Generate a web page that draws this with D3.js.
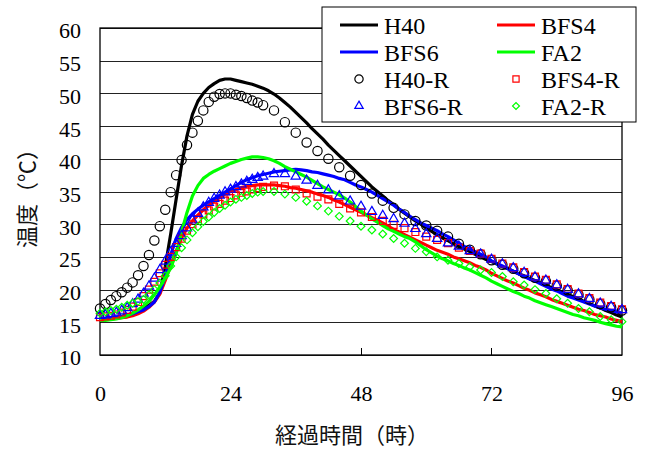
<!DOCTYPE html>
<html>
<head>
<meta charset="utf-8">
<script src="https://cdn.jsdelivr.net/npm/d3@7"></script>
<style>
body { margin: 0; background: #fff; }
svg { display: block; }
.serif { font-family: "Liberation Serif", "Times New Roman", Times, serif; }
.cjk { font-family: "Noto Sans CJK JP", "Noto Sans CJK SC", sans-serif; }
</style>
</head>
<body>
<script>
// ---- data ----
const hours = d3.range(0, 97); // measured every hour 0..96
const H40 = [15.5,15.5,15.6,15.7,15.9,16.1,16.4,16.8,17.2,17.6,18.2,19.5,23.5,28.5,33.8,39.0,43.5,46.8,48.8,50.0,50.9,51.5,52.0,52.2,52.2,52.0,51.8,51.6,51.4,51.1,50.8,50.4,49.9,49.3,48.6,47.9,47.1,46.3,45.5,44.6,43.8,43.0,42.1,41.3,40.5,39.7,38.9,38.1,37.3,36.5,35.7,35.0,34.3,33.6,33.0,32.3,31.7,31.1,30.5,30.0,29.4,28.9,28.4,27.9,27.5,27.0,26.6,26.2,25.8,25.4,25.0,24.6,24.3,23.9,23.5,23.2,22.8,22.4,22.1,21.7,21.4,21.0,20.7,20.3,20.0,19.6,19.3,18.9,18.6,18.2,17.9,17.5,17.2,16.8,16.5,16.1,15.8];
const BFS4 = [15.5,15.5,15.5,15.6,15.7,15.8,16.0,16.3,16.7,17.3,18.1,19.3,21.4,23.7,25.9,27.9,29.4,30.5,31.4,32.2,32.9,33.5,34.1,34.6,35.0,35.3,35.6,35.8,35.9,36.0,36.0,36.0,36.0,35.9,35.8,35.6,35.5,35.3,35.1,34.9,34.6,34.4,34.1,33.7,33.4,33.0,32.6,32.2,31.8,31.4,31.0,30.6,30.2,29.7,29.2,28.8,28.4,28.0,27.6,27.2,26.8,26.4,26.0,25.7,25.4,25.0,24.7,24.4,24.1,23.7,23.4,23.0,22.5,22.1,21.7,21.3,21.0,20.6,20.2,19.9,19.5,19.2,18.9,18.5,18.2,17.9,17.6,17.3,17.0,16.8,16.5,16.2,16.0,15.8,15.5,15.3,15.1];
const BFS6 = [15.6,15.6,15.7,15.8,15.9,16.1,16.3,16.6,16.9,17.4,18.1,19.6,22.0,25.3,27.8,29.5,30.7,31.6,32.3,32.9,33.4,33.9,34.4,34.9,35.4,35.9,36.4,36.8,37.1,37.4,37.6,37.8,38.0,38.1,38.2,38.3,38.4,38.3,38.2,38.0,37.9,37.7,37.5,37.3,37.0,36.8,36.4,36.0,35.7,35.3,34.9,34.4,33.9,33.4,32.9,32.3,31.8,31.2,30.7,30.2,29.8,29.4,29.0,28.5,28.1,27.6,27.1,26.6,26.2,25.8,25.4,25.0,24.4,24.0,23.6,23.2,22.8,22.4,22.0,21.6,21.3,20.9,20.5,20.1,19.8,19.4,19.0,18.7,18.4,18.1,17.8,17.5,17.2,17.0,16.8,16.6,16.4];
const FA2 = [15.3,15.3,15.4,15.5,15.7,16.0,16.4,16.9,17.5,18.2,19.2,20.4,21.8,23.3,25.5,28.8,31.8,34.3,35.9,37.0,37.6,38.1,38.5,38.9,39.3,39.6,39.9,40.1,40.3,40.3,40.2,40.0,39.7,39.3,38.8,38.4,38.0,37.6,37.2,36.7,36.2,35.7,35.3,34.9,34.5,34.0,33.4,32.7,32.0,31.4,30.8,30.3,29.8,29.3,28.9,28.5,28.1,27.8,27.3,26.7,26.1,25.6,25.1,24.7,24.4,24.0,23.7,23.3,23.0,22.6,22.2,21.8,21.3,20.9,20.5,20.1,19.7,19.4,19.0,18.7,18.3,18.0,17.7,17.4,17.1,16.8,16.5,16.2,16.0,15.7,15.5,15.3,15.0,14.8,14.6,14.4,14.3];

// analysis results (R)
const rHours = [0,1,2,3,4,5,6,7,8,9,10,11,12,13,14,15,16,17,18,19,20,21,22,23,24,25,26,27,28,29,30,32,34,36,38,40,42,44,46,48,50,52,54,56,58,60,62,64,66,68,70,72,74,76,78,80,82,84,86,88,90,92,94,96];
const H40R = [17.1,17.8,18.4,19.0,19.6,20.3,21.1,22.2,23.6,25.3,27.5,29.7,32.2,34.9,37.5,39.8,42.1,44.0,45.8,47.4,48.7,49.5,49.9,50.0,50.0,49.8,49.6,49.3,48.9,48.6,48.2,47.4,45.6,44.0,42.5,41.2,40.0,38.7,37.4,36.0,34.7,33.6,32.5,31.5,30.5,29.8,29.0,28.1,27.0,26.1,25.4,24.5,23.8,23.2,22.5,21.8,21.3,20.6,19.9,19.2,18.5,17.8,17.3,16.8];
const BFS4R = [15.8,15.9,16.0,16.2,16.5,16.9,17.4,18.1,19.0,20.0,21.2,22.5,23.8,25.0,26.5,27.8,29.0,30.0,30.8,31.5,32.1,32.7,33.1,33.6,34.0,34.4,34.8,35.0,35.3,35.5,35.7,35.9,35.8,35.3,34.7,34.2,33.8,33.1,32.4,31.8,31.1,30.5,29.9,29.4,28.8,28.1,27.6,27.1,26.4,25.9,25.5,24.7,24.0,23.4,22.7,22.0,21.5,20.8,20.1,19.4,18.7,18.0,17.5,17.0];
const BFS6R = [16.0,16.1,16.3,16.5,16.8,17.2,17.8,18.5,19.4,20.5,21.7,23.0,24.3,25.7,27.0,28.2,29.4,30.6,31.6,32.6,33.3,33.9,34.4,34.9,35.3,35.7,36.1,36.5,36.8,37.1,37.3,37.7,37.7,37.3,36.7,35.9,35.2,34.3,33.5,32.7,31.9,31.3,30.8,30.1,29.3,28.5,27.8,27.1,26.6,25.9,25.4,24.6,23.9,23.3,22.6,21.9,21.4,20.7,20.0,19.3,18.6,17.9,17.4,16.9];
const FA2R = [16.4,16.6,16.8,17.0,17.3,17.6,17.9,18.2,18.5,19.2,20.0,21.0,22.1,23.6,25.0,26.4,27.6,28.7,29.6,30.4,31.1,31.8,32.4,32.9,33.4,33.8,34.1,34.4,34.7,34.9,35.0,35.0,34.6,34.1,33.5,32.8,32.0,31.2,30.5,29.7,29.1,28.5,27.8,27.1,26.3,25.8,25.0,24.5,24.0,23.5,23.0,22.6,22.0,21.2,20.7,20.0,19.4,18.6,17.9,17.1,16.6,15.9,15.4,15.1];

const xTicks = [0, 24, 48, 72, 96];
const yTicks = [10, 15, 20, 25, 30, 35, 40, 45, 50, 55, 60];
const xTitle = "経過時間（時）";
const yTitle = "温度（℃）";

const lineSeries = [
  {name: "H40", values: H40, color: "#000000"},
  {name: "BFS4", values: BFS4, color: "#ff0000"},
  {name: "BFS6", values: BFS6, color: "#0000ff"},
  {name: "FA2", values: FA2, color: "#00ff00"}
];
const markerSeries = [
  {name: "H40-R", values: H40R, color: "#000000", shape: "circle"},
  {name: "BFS4-R", values: BFS4R, color: "#ff0000", shape: "square"},
  {name: "BFS6-R", values: BFS6R, color: "#0000ff", shape: "triangle"},
  {name: "FA2-R", values: FA2R, color: "#00ff00", shape: "diamond"}
];

// ---- layout ----
const W = 645, H = 450;
const L = 100, R = 622, T = 28, B = 355;

const svg = d3.select("body").append("svg").attr("width", W).attr("height", H);
const x = d3.scaleLinear().domain([0, 96]).range([L, R]);
const y = d3.scaleLinear().domain([10, 60]).range([B, T]);

// y axis with gridlines
const yAxis = svg.append("g").attr("transform", `translate(${L},0)`)
  .call(d3.axisLeft(y).tickValues(yTicks).tickSize(-(R - L)).tickPadding(19).tickFormat(d3.format("d")));
yAxis.attr("font-family", null).attr("font-size", null);
yAxis.select(".domain").remove();
yAxis.selectAll(".tick line").attr("stroke", "#222").attr("stroke-width", 1).attr("shape-rendering", "crispEdges");
yAxis.selectAll(".tick text").attr("class", "serif").style("font-size", "22px").attr("fill", "#000").attr("dy", "0.45em");

// x axis
const xAxis = svg.append("g").attr("transform", `translate(0,${B})`)
  .call(d3.axisBottom(x).tickValues(xTicks).tickSize(0).tickPadding(0).tickFormat(d3.format("d")));
xAxis.attr("font-family", null).attr("font-size", null);
xAxis.select(".domain").remove();
xAxis.selectAll(".tick text").attr("class", "serif").style("font-size", "22px").attr("fill", "#000").attr("y", 46).attr("dy", 0);
// inward tick marks
svg.append("g").selectAll("line").data(xTicks.slice(1, -1)).join("line")
  .attr("x1", d => x(d)).attr("x2", d => x(d)).attr("y1", B).attr("y2", B - 7)
  .attr("stroke", "#000").attr("stroke-width", 1).attr("shape-rendering", "crispEdges");

// frame
svg.append("rect").attr("x", L).attr("y", T).attr("width", R - L).attr("height", B - T)
  .attr("fill", "none").attr("stroke", "#000").attr("stroke-width", 1.3);

// titles
svg.append("text").attr("class", "cjk").attr("x", 352).attr("y", 433).attr("text-anchor", "middle").attr("dominant-baseline", "central")
  .style("font-size", "22px").attr("fill", "#111").text(xTitle);
svg.append("text").attr("class", "cjk").attr("transform", "translate(25,193) rotate(-90)").attr("text-anchor", "middle").attr("dominant-baseline", "central")
  .style("font-size", "22px").attr("fill", "#111").text(yTitle);

// lines
const plot = svg.append("g");
const lineGen = d3.line().x((d, i) => x(hours[i])).y(d => y(d));
lineSeries.forEach(s => {
  plot.append("path").datum(s.values).attr("d", lineGen)
    .attr("fill", "none").attr("stroke", s.color).attr("stroke-width", 3.2).attr("stroke-linejoin", "round");
});

function symbolPath(shape, scale) {
  const k = scale || 1;
  if (shape === "circle") return d3.symbol(d3.symbolCircle, 68 * k)();
  if (shape === "square") return d3.symbol(d3.symbolSquare, 48 * k)();
  if (shape === "triangle") return d3.symbol(d3.symbolTriangle, 38 * k)();
  if (shape === "diamond") return d3.symbol(d3.symbolSquare, 30 * k)();
}
markerSeries.forEach(s => {
  plot.append("g").selectAll("path").data(s.values).join("path")
    .attr("d", symbolPath(s.shape))
    .attr("transform", (d, i) => `translate(${x(rHours[i])},${y(d)})` + (s.shape === "diamond" ? " rotate(45)" : ""))
    .attr("fill", "none").attr("stroke", s.color).attr("stroke-width", 1.2);
});

// legend
const lg = svg.append("g");
lg.append("rect").attr("x", 322).attr("y", 7).attr("width", 314).attr("height", 115)
  .attr("fill", "#fff").attr("stroke", "#000").attr("stroke-width", 1);
const items = [...lineSeries.map(s => ({...s, kind: "line"})), ...markerSeries.map(s => ({...s, kind: "marker"}))];
const colX = [340, 497];
const rowY = [25, 52, 79, 106];
items.forEach((it, i) => {
  const cx = colX[i % 2], cy = rowY[Math.floor(i / 2)];
  if (it.kind === "line") {
    lg.append("line").attr("x1", cx).attr("x2", cx + 38).attr("y1", cy).attr("y2", cy)
      .attr("stroke", it.color).attr("stroke-width", 3);
  } else {
    lg.append("path").attr("d", symbolPath(it.shape, 0.8))
      .attr("transform", `translate(${cx + 19},${cy})` + (it.shape === "diamond" ? " rotate(45)" : ""))
      .attr("fill", "none").attr("stroke", it.color).attr("stroke-width", 1.2);
  }
  lg.append("text").attr("class", "serif").attr("x", cx + 44).attr("y", cy + 8.5)
    .style("font-size", "24px").attr("fill", "#000").text(it.name);
});
</script>
</body>
</html>
